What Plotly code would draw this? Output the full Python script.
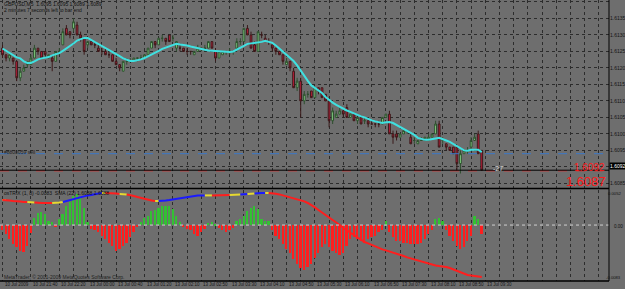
import plotly.graph_objects as go

# ---------------- data ----------------
bar = list(range(136))

open_ = [1.6126,1.6124,1.6123,1.6123,1.6122,1.6117,1.6119,1.6121,1.6121,1.6123,
         1.6126,1.6125,1.6125,1.6123,1.6123,1.6122,1.6125,1.6127,1.6132,1.6131,
         1.6132,1.6133,1.6130,1.6129,1.6127,1.6128,1.6127,1.6126,1.6125,1.6125,
         1.6124,1.6124,1.6122,1.6121,1.6119,1.6122,1.6122,1.6122,1.6123,1.6123,
         1.6123,1.6124,1.6126,1.6128,1.6127,1.6129,1.6129,1.6130,1.6129,1.6126,
         1.6126,1.6126,1.6125,1.6125,1.6124,1.6125,1.6126,1.6126,1.6126,1.6128,
         1.6125,1.6123,1.6124,1.6125,1.6125,1.6125,1.6126,1.6128,1.6128,1.6132,
         1.6130,1.6127,1.6125,1.6130,1.6129,1.6128,1.6127,1.6126,1.6125,1.6124,
         1.6121,1.6122,1.6119,1.6114,1.6116,1.6110,1.6112,1.6113,1.6111,1.6114,
         1.6114,1.6112,1.6110,1.6104,1.6105,1.6106,1.6107,1.6108,1.6105,1.6106,
         1.6104,1.6105,1.6104,1.6104,1.6103,1.6103,1.6103,1.6103,1.6105,1.6106,
         1.6100,1.6100,1.6099,1.6100,1.6101,1.6099,1.6098,1.6097,1.6098,1.6098,
         1.6098,1.6099,1.6100,1.6103,1.6098,1.6097,1.6096,1.6096,1.6096,1.6091,
         1.6094,1.6095,1.6096,1.6098,1.6100,1.6095]
high = [1.6127,1.6124,1.6124,1.6123,1.6122,1.6120,1.6121,1.6122,1.6124,1.6127,
        1.6126,1.6125,1.6125,1.6124,1.6124,1.6125,1.6126,1.6132,1.6133,1.6131,
        1.6135,1.6134,1.6131,1.6129,1.6128,1.6128,1.6128,1.6127,1.6126,1.6126,
        1.6125,1.6124,1.6123,1.6121,1.6122,1.6123,1.6123,1.6123,1.6123,1.6124,
        1.6124,1.6126,1.6128,1.6128,1.6129,1.6130,1.6129,1.6130,1.6130,1.6128,
        1.6127,1.6126,1.6126,1.6125,1.6125,1.6127,1.6126,1.6127,1.6128,1.6128,
        1.6126,1.6125,1.6125,1.6125,1.6126,1.6125,1.6129,1.6129,1.6132,1.6133,
        1.6131,1.6128,1.6131,1.6131,1.6130,1.6129,1.6127,1.6126,1.6125,1.6124,
        1.6123,1.6122,1.6120,1.6117,1.6117,1.6113,1.6113,1.6113,1.6114,1.6114,
        1.6114,1.6112,1.6111,1.6108,1.6107,1.6108,1.6107,1.6109,1.6106,1.6106,
        1.6105,1.6105,1.6105,1.6104,1.6104,1.6103,1.6104,1.6105,1.6106,1.6107,
        1.6101,1.6101,1.6100,1.6101,1.6101,1.6100,1.6099,1.6098,1.6099,1.6099,
        1.6100,1.6100,1.6104,1.6104,1.6099,1.6097,1.6096,1.6096,1.6096,1.6095,
        1.6095,1.6096,1.6099,1.6100,1.6101,1.6095]
low = [1.6123,1.6122,1.6122,1.6121,1.6116,1.6116,1.6119,1.6120,1.6121,1.6123,
       1.6124,1.6123,1.6124,1.6123,1.6119,1.6122,1.6124,1.6127,1.6130,1.6129,
       1.6131,1.6130,1.6128,1.6124,1.6126,1.6127,1.6126,1.6125,1.6124,1.6124,
       1.6123,1.6122,1.6121,1.6119,1.6119,1.6121,1.6122,1.6122,1.6122,1.6123,
       1.6123,1.6124,1.6126,1.6126,1.6127,1.6128,1.6127,1.6128,1.6128,1.6125,
       1.6125,1.6125,1.6124,1.6124,1.6124,1.6125,1.6125,1.6125,1.6126,1.6126,
       1.6122,1.6123,1.6124,1.6124,1.6124,1.6124,1.6125,1.6127,1.6128,1.6130,
       1.6126,1.6125,1.6125,1.6129,1.6128,1.6127,1.6125,1.6124,1.6124,1.6121,
       1.6121,1.6119,1.6114,1.6113,1.6105,1.6109,1.6111,1.6111,1.6111,1.6112,
       1.6111,1.6110,1.6102,1.6103,1.6105,1.6106,1.6105,1.6105,1.6105,1.6104,
       1.6103,1.6103,1.6103,1.6102,1.6103,1.6102,1.6102,1.6103,1.6105,1.6100,
       1.6097,1.6098,1.6099,1.6100,1.6100,1.6097,1.6097,1.6097,1.6098,1.6098,
       1.6098,1.6099,1.6100,1.6096,1.6097,1.6095,1.6095,1.6094,1.6089,1.6088,
       1.6094,1.6094,1.6095,1.6098,1.6094,1.6089]
close = [1.6124,1.6123,1.6124,1.6122,1.6117,1.6119,1.6120,1.6122,1.6123,1.6126,
         1.6125,1.6123,1.6124,1.6124,1.6122,1.6125,1.6125,1.6131,1.6130,1.6130,
         1.6134,1.6130,1.6129,1.6125,1.6128,1.6127,1.6127,1.6125,1.6125,1.6124,
         1.6124,1.6122,1.6121,1.6120,1.6122,1.6122,1.6122,1.6123,1.6123,1.6123,
         1.6124,1.6126,1.6128,1.6127,1.6129,1.6129,1.6128,1.6128,1.6129,1.6128,
         1.6126,1.6125,1.6125,1.6125,1.6125,1.6126,1.6126,1.6126,1.6128,1.6126,
         1.6123,1.6125,1.6125,1.6125,1.6125,1.6125,1.6128,1.6128,1.6132,1.6130,
         1.6126,1.6125,1.6131,1.6130,1.6128,1.6128,1.6126,1.6125,1.6124,1.6122,
         1.6122,1.6120,1.6114,1.6116,1.6110,1.6112,1.6112,1.6111,1.6114,1.6113,
         1.6111,1.6110,1.6104,1.6107,1.6106,1.6107,1.6106,1.6105,1.6106,1.6104,
         1.6105,1.6103,1.6104,1.6103,1.6103,1.6103,1.6103,1.6105,1.6106,1.6100,
         1.6099,1.6099,1.6100,1.6101,1.6101,1.6097,1.6098,1.6098,1.6098,1.6099,
         1.6099,1.6100,1.6103,1.6096,1.6098,1.6096,1.6095,1.6094,1.6091,1.6094,
         1.6095,1.6095,1.6098,1.6099,1.6094,1.6089]

ma = [1.61259,1.61252,1.61244,1.61238,1.61232,1.61229,1.61220,1.61215,1.61215,1.61220,
      1.61226,1.61229,1.61230,1.61233,1.61238,1.61241,1.61245,1.61252,1.61259,1.61267,
      1.61274,1.61283,1.61288,1.61291,1.61291,1.61285,1.61279,1.61274,1.61268,1.61262,
      1.61256,1.61250,1.61244,1.61236,1.61229,1.61224,1.61221,1.61221,1.61223,1.61226,
      1.61230,1.61235,1.61241,1.61245,1.61252,1.61258,1.61262,1.61267,1.61271,1.61273,
      1.61271,1.61270,1.61268,1.61265,1.61262,1.61259,1.61258,1.61255,1.61253,1.61252,
      1.61250,1.61250,1.61248,1.61248,1.61248,1.61250,1.61255,1.61261,1.61267,1.61273,
      1.61274,1.61276,1.61276,1.61279,1.61282,1.61280,1.61276,1.61268,1.61259,1.61250,
      1.61239,1.61230,1.61221,1.61208,1.61191,1.61176,1.61161,1.61147,1.61139,1.61132,
      1.61124,1.61112,1.61102,1.61095,1.61088,1.61082,1.61077,1.61071,1.61067,1.61062,
      1.61058,1.61053,1.61050,1.61045,1.61041,1.61038,1.61035,1.61033,1.61035,1.61036,
      1.61033,1.61027,1.61021,1.61015,1.61011,1.61005,1.60997,1.60988,1.60985,1.60982,
      1.60982,1.60983,1.60986,1.60988,1.60985,1.60980,1.60976,1.60970,1.60964,1.60958,
      1.60950,1.60949,1.60952,1.60952,1.60952,1.60945]

ostrix = [-0.0008,-0.0013,-0.0021,-0.0028,-0.0033,-0.0038,-0.0040,-0.0031,-0.0012,0.0010,
          0.0018,0.0019,0.0016,0.0006,0.0004,-0.0002,0.0009,0.0016,0.0029,0.0034,
          0.0043,0.0046,0.0040,0.0026,0.0004,-0.0006,-0.0008,-0.0011,-0.0016,-0.0021,
          -0.0026,-0.0031,-0.0038,-0.0036,-0.0031,-0.0026,-0.0018,-0.0011,-0.0003,0.0004,
          0.0010,0.0014,0.0021,0.0023,0.0026,0.0029,0.0029,0.0028,0.0024,0.0014,
          0.0004,-0.0003,-0.0006,-0.0008,-0.0013,-0.0016,-0.0010,-0.0006,0.0003,0.0004,
          0.0002,-0.0004,-0.0008,-0.0010,-0.0007,-0.0004,0.0006,0.0009,0.0014,0.0021,
          0.0026,0.0029,0.0024,0.0009,0.0006,0.0006,-0.0007,-0.0016,-0.0021,-0.0028,
          -0.0035,-0.0042,-0.0050,-0.0058,-0.0064,-0.0066,-0.0062,-0.0058,-0.0049,-0.0041,
          -0.0033,-0.0028,-0.0033,-0.0038,-0.0042,-0.0044,-0.0042,-0.0031,-0.0021,-0.0018,
          -0.0021,-0.0023,-0.0026,-0.0021,-0.0018,-0.0016,-0.0011,-0.0008,0.0006,-0.0011,
          -0.0018,-0.0023,-0.0023,-0.0026,-0.0026,-0.0028,-0.0028,-0.0028,-0.0026,-0.0021,
          -0.0013,-0.0008,0.0009,0.0010,0.0006,-0.0008,-0.0016,-0.0023,-0.0031,-0.0035,
          -0.0033,-0.0023,-0.0016,0.0014,0.0009,-0.0013]

sma22 = [1.61265,1.61265,1.61263,1.61260,1.61260,1.61258,1.61255,1.61255,1.61255,1.61253,
         1.61250,1.61250,1.61250,1.61250,1.61250,1.61250,1.61253,1.61255,1.61260,1.61265,
         1.61270,1.61275,1.61280,1.61285,1.61288,1.61290,1.61295,1.61298,1.61300,1.61300,
         1.61300,1.61298,1.61298,1.61295,1.61295,1.61293,1.61290,1.61285,1.61280,1.61275,
         1.61270,1.61265,1.61263,1.61260,1.61260,1.61260,1.61263,1.61265,1.61268,1.61270,
         1.61273,1.61275,1.61280,1.61283,1.61285,1.61288,1.61288,1.61288,1.61288,1.61288,
         1.61288,1.61290,1.61290,1.61290,1.61290,1.61290,1.61290,1.61293,1.61295,1.61295,
         1.61298,1.61298,1.61300,1.61300,1.61300,1.61300,1.61299,1.61296,1.61293,1.61288,
         1.61283,1.61278,1.61273,1.61269,1.61264,1.61258,1.61250,1.61240,1.61228,1.61215,
         1.61203,1.61190,1.61180,1.61168,1.61155,1.61140,1.61125,1.61113,1.61100,1.61088,
         1.61075,1.61065,1.61055,1.61048,1.61040,1.61033,1.61025,1.61018,1.61013,1.61008,
         1.61003,1.60998,1.60990,1.60985,1.60978,1.60973,1.60968,1.60963,1.60958,1.60950,
         1.60945,1.60940,1.60938,1.60935,1.60933,1.60930,1.60925,1.60918,1.60910,1.60900,
         1.60895,1.60890,1.60888,1.60885,1.60883,1.60880]

# trend state of the SMA line per bar: u = up, d = down, f = flat
sma_trend = ("f" + "d"*7 + "ff" + "d"*5 + "fff" + "u"*11 + "f" + "d"*4 + "ff" + "d"*8 + "f"
             + "u"*13 + "ff" + "d"*5 + "fff" + "uu" + "ff" + "uuu" + "f" + "d"*60)

price_ticks = [1.6140, 1.6135, 1.6130, 1.6125, 1.6120, 1.6115, 1.6110,
               1.6105, 1.6100, 1.6095, 1.6090, 1.6085]
time_tick_bars = [0, 8, 16, 24, 32, 40, 48, 56, 64, 72, 80, 88, 96, 104, 112, 120, 128, 136]
time_tick_text = ["10 Jul 2009", "10 Jul 21:40", "10 Jul 22:20", "13 Jul 00:00", "13 Jul 00:40",
                  "13 Jul 01:20", "13 Jul 02:10", "13 Jul 02:50", "13 Jul 03:30", "13 Jul 04:10",
                  "13 Jul 04:50", "13 Jul 05:30", "13 Jul 06:10", "13 Jul 06:50", "13 Jul 07:30",
                  "13 Jul 08:10", "13 Jul 08:50", "13 Jul 09:30"]

bid_price = 1.6089
bid_label = 1.6092
order_price = 1.6094
stop_price = 1.60888
osc_max, osc_min = 0.0052, -0.0083

# ---------------- figure ----------------
BG = "#6e6e6e"
GRID = "#2c2c2c"
W, H = 625, 289
PW, PH = 609, 281        # plot area in px
TOP_BOTTOM_PX = 188
LOW_TOP_PX = 190

fig = go.Figure()

fig.add_trace(go.Candlestick(
    x=bar, open=open_, high=high, low=low, close=close,
    increasing=dict(fillcolor="#8fe38f", line=dict(color="#2f4f2f", width=1)),
    decreasing=dict(fillcolor="#cc1f3f", line=dict(color="#3a1a1a", width=1)),
    whiskerwidth=0, xaxis="x2", yaxis="y", showlegend=False, hoverinfo="skip"))

fig.add_trace(go.Scatter(x=bar, y=ma, mode="lines", xaxis="x2", yaxis="y",
                         line=dict(color="#3fe0e0", width=2), showlegend=False,
                         hoverinfo="skip"))

fig.add_trace(go.Bar(x=bar, y=ostrix, xaxis="x", yaxis="y2", width=0.5,
                     marker=dict(color=["#33c033" if v > 0 else "#ff1e1e" for v in ostrix],
                                 line=dict(width=0)),
                     showlegend=False, hoverinfo="skip"))

trend_color = {"u": "#1a1aff", "d": "#ff1e1e", "f": "#e6d830"}
start = 0
for i in range(1, len(bar) + 1):
    if i == len(bar) or sma_trend[i] != sma_trend[start]:
        xs = bar[max(start - 1, 0):i]
        ys = sma22[max(start - 1, 0):i]
        if len(xs) == 1:
            xs = bar[start:start + 2]
            ys = sma22[start:start + 2]
        fig.add_trace(go.Scatter(x=xs, y=ys, mode="lines", xaxis="x", yaxis="y3",
                                 line=dict(color=trend_color[sma_trend[start]], width=2),
                                 showlegend=False, hoverinfo="skip"))
        start = i

px_per_bar = 3.55
x0 = -2.5 / px_per_bar
x1 = x0 + PW / px_per_bar
top_dom = [1 - TOP_BOTTOM_PX / PH, 1]
low_dom = [0, 1 - LOW_TOP_PX / PH]

xcommon = dict(range=[x0, x1], showgrid=True, gridcolor=GRID, griddash="dot", gridwidth=1,
               tick0=0, dtick=4, showticklabels=False, ticks="", zeroline=False,
               showline=False, fixedrange=True)

# the bid box covers the price label nearest to it
price_tick_text = ["" if abs(v - bid_price) < 0.0002 else f"{v:.4f}" for v in price_ticks]

fig.update_layout(
    width=W, height=H,
    margin=dict(l=0, r=W - PW, t=0, b=H - PH),
    paper_bgcolor=BG, plot_bgcolor=BG,
    bargap=0,
    font=dict(family="Liberation Sans, Arial, sans-serif", color="#111111"),
    xaxis=dict(anchor="y2", domain=[0, 1], **xcommon),
    xaxis2=dict(anchor="y", domain=[0, 1], matches="x", rangeslider=dict(visible=False),
                **xcommon),
    yaxis=dict(domain=top_dom, range=[1.60836, 1.61406], side="right",
               tickvals=price_ticks, ticktext=price_tick_text,
               tickfont=dict(size=5, color="#151515"), ticks="",
               showgrid=True, gridcolor=GRID, griddash="dot", zeroline=False,
               fixedrange=True),
    yaxis2=dict(domain=low_dom, range=[osc_min, osc_max], showgrid=False,
                showticklabels=False, zeroline=False, fixedrange=True),
    yaxis3=dict(domain=low_dom, overlaying="y2", range=[1.6086, 1.61315],
                showgrid=False, showticklabels=False, zeroline=False, visible=False),
)

shapes = []
shapes.append(dict(type="line", xref="paper", x0=0, x1=1, yref="y2", y0=0, y1=0,
                   line=dict(color="#d0d0d0", width=1, dash="dot")))
shapes.append(dict(type="line", xref="paper", x0=0, x1=1, yref="y", y0=order_price, y1=order_price,
                   line=dict(color="#3a78c8", width=1, dash="dash")))
shapes.append(dict(type="line", xref="paper", x0=0, x1=1, yref="y", y0=stop_price, y1=stop_price,
                   line=dict(color="#e03030", width=1, dash="dash")))
shapes.append(dict(type="line", xref="paper", x0=0, x1=1, yref="y", y0=bid_price, y1=bid_price,
                   line=dict(color="#000000", width=1)))
sep = 1 - (TOP_BOTTOM_PX + 0.5) / PH
shapes.append(dict(type="line", xref="paper", x0=0, x1=1, yref="paper", y0=sep, y1=sep,
                   line=dict(color="#000000", width=1.5)))
shapes.append(dict(type="line", xref="paper", x0=0, x1=1, yref="paper", y0=0, y1=0,
                   line=dict(color="#000000", width=1.5)))
shapes.append(dict(type="line", xref="paper", x0=1, x1=1, yref="paper", y0=0, y1=1,
                   line=dict(color="#000000", width=1)))
fig.update_layout(shapes=shapes)

ann = []
def px_ann(text, px, py, size=5, color="#111111", xanchor="left", yanchor="middle", **kw):
    ann.append(dict(text=text, xref="paper", yref="paper", x=px / PW, y=1 - py / PH,
                    xanchor=xanchor, yanchor=yanchor, showarrow=False,
                    font=dict(size=size, color=color), **kw))

px_ann("GBPUSD,M5  1.6095 1.6095 1.6089 1.6089", 2, 3.5)
px_ann("2 minutes 7 seconds left to bar end", 2, 9.5)
px_ann("#8800059 sell", 2, 152, color="#222222")
px_ann("-27", 491, 168.5, size=7, color="#d8d8d8")
px_ann("1.6092", 607, 167, size=10, color="#ff1a1a", xanchor="right")
px_ann("1.6087", 608, 181, size=13, color="#ff1a1a", xanchor="right")
px_ann("osTRIX (1, 8) -0.0083  SMA (22) 1.6088 1.6088", 2, 193.5)
px_ann("MetaTrader, © 2001-2009 MetaQuotes Software Corp.", 2, 276.5, color="#222222")
px_ann(f"{osc_max:.4f}", 623, 193.5, size=4.2, xanchor="right")
px_ann("0.00", 612, 226, size=4.5)
px_ann(f"{osc_min:.4f}", 623, 277.5, size=4.2, xanchor="right")
ann.append(dict(text=f"{bid_label:.4f}", xref="paper", yref="y", x=1.0, y=bid_price,
                xanchor="left", yanchor="bottom", showarrow=False, bgcolor="#000000",
                borderpad=0, font=dict(size=5, color="#ffffff")))
for b, t in zip(time_tick_bars, time_tick_text):
    ann.append(dict(text=t, xref="x", yref="paper", x=b, y=1 - 284.5 / PH,
                    xanchor="left", yanchor="middle", showarrow=False,
                    font=dict(size=4.5, color="#151515")))
fig.update_layout(annotations=ann)

fig.write_html("out.html")
